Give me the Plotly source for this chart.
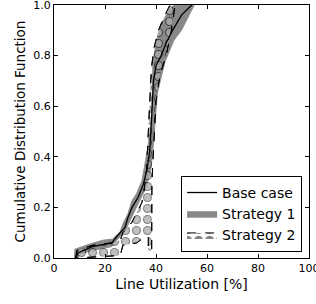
import plotly.graph_objects as go

# Base case CDF
base_x = [8.5, 9.4, 15, 22.7, 24.6, 27.8, 29, 30.6, 33, 35, 36.5, 37.5, 38, 38.5, 39, 40, 42, 44, 46.5, 50, 54]
base_y = [0.0, 0.02, 0.045, 0.06, 0.085, 0.12, 0.16, 0.2, 0.24, 0.29, 0.35, 0.42, 0.5, 0.6, 0.7, 0.76, 0.8, 0.85, 0.9, 0.96, 1.0]

# Strategy 1 band (upper/left and lower/right CDF bounds)
s1_up_x = [8, 8.2, 14, 19, 23, 26, 27, 29, 30.5, 32.4, 34.5, 35.7, 37, 38.3, 38.6, 38.8, 40, 42, 45, 47]
s1_up_y = [0.0, 0.035, 0.055, 0.07, 0.075, 0.105, 0.135, 0.175, 0.225, 0.255, 0.305, 0.37, 0.45, 0.545, 0.65, 0.775, 0.85, 0.92, 0.98, 1.0]
s1_lo_x = [9.5, 10, 15, 22.7, 24.6, 27.8, 29.5, 31.5, 33.5, 36, 38, 39, 39.8, 40.5, 43.5, 47, 50, 53, 55]
s1_lo_y = [0.0, 0.015, 0.03, 0.045, 0.07, 0.105, 0.145, 0.185, 0.225, 0.275, 0.35, 0.45, 0.55, 0.65, 0.775, 0.86, 0.9, 0.96, 1.0]

# Strategy 2 band
s2_up_x = [8.5, 9, 15, 22.9, 26, 27, 30.5, 32.5, 34.5, 35.5, 36.3, 37, 37.5, 38.2, 39.2, 41, 43, 45.5]
s2_up_y = [0.0, 0.03, 0.05, 0.06, 0.07, 0.10, 0.14, 0.18, 0.22, 0.28, 0.35, 0.5, 0.62, 0.75, 0.83, 0.9, 0.95, 1.0]
s2_lo_x = [9, 26, 27, 32.5, 35.7, 37, 37, 38.3, 38.4, 38.8, 39.3, 40, 41.5, 44, 46, 47.5]
s2_lo_y = [0.0, 0.01, 0.05, 0.06, 0.085, 0.085, 0.03, 0.03, 0.3, 0.4, 0.5, 0.62, 0.72, 0.8, 0.9, 1.0]

x_ticks = [0, 20, 40, 60, 80, 100]
y_ticks = [0.0, 0.2, 0.4, 0.6, 0.8, 1.0]

font = "DejaVu Sans"

fig = go.Figure()

fig.add_trace(go.Scatter(
    x=s1_up_x + s1_lo_x[::-1], y=s1_up_y + s1_lo_y[::-1],
    fill="toself", fillcolor="#888888", mode="lines",
    line=dict(color="#8f8f8f", width=1), name="Strategy 1", legendrank=2))

s2x = s2_up_x + s2_lo_x[::-1]
s2y = s2_up_y + s2_lo_y[::-1]
fig.add_trace(go.Scatter(
    x=s2x, y=s2y, fill="toself", fillcolor="rgba(0,0,0,0)", mode="lines",
    fillpattern=dict(shape=".", fgcolor="black", bgcolor="rgba(0,0,0,0)", size=11, solidity=0.53),
    line=dict(color="black", width=1, dash="dash"), name="Strategy 2", legendrank=3))
fig.add_trace(go.Scatter(
    x=s2x, y=s2y, fill="toself", fillcolor="rgba(0,0,0,0)", mode="lines",
    fillpattern=dict(shape=".", fgcolor="white", bgcolor="rgba(0,0,0,0)", size=11, solidity=0.30),
    line=dict(color="black", width=1, dash="dash"), showlegend=False, hoverinfo="skip"))

fig.add_trace(go.Scatter(
    x=base_x, y=base_y, mode="lines", line=dict(color="black", width=1.3),
    name="Base case", legendrank=1))

axis_common = dict(showgrid=False, zeroline=False, showline=True, linecolor="black", linewidth=1,
                   mirror="ticks", ticks="inside", ticklen=4, tickcolor="black", automargin=False,
                   ticklabeloverflow="allow",
                   tickfont=dict(family=font, size=11, color="black"))

fig.update_layout(
    width=316, height=304,
    margin=dict(l=54, r=7, t=5, b=46),
    paper_bgcolor="white", plot_bgcolor="white",
    font=dict(family=font, color="black"),
    xaxis=dict(range=[0, 100], tickvals=x_ticks, ticktext=[str(v) for v in x_ticks],
               title=dict(text="Line Utilization [%]", font=dict(family=font, size=14), standoff=4),
               **axis_common),
    yaxis=dict(range=[0, 1], tickvals=y_ticks, ticktext=[f"{v:.1f}" for v in y_ticks],
               title=dict(text="Cumulative Distribution Function", font=dict(family=font, size=13.5), standoff=4),
               **axis_common),
    legend=dict(x=0.973, y=0.024, xanchor="right", yanchor="bottom",
                bgcolor="white", bordercolor="black", borderwidth=1,
                font=dict(family=font, size=14), tracegroupgap=0, itemwidth=30),
    showlegend=True,
)

fig.write_html("out.html", config={"displayModeBar": False},
               post_script="document.body.style.margin='0';document.body.style.overflow='hidden';")
